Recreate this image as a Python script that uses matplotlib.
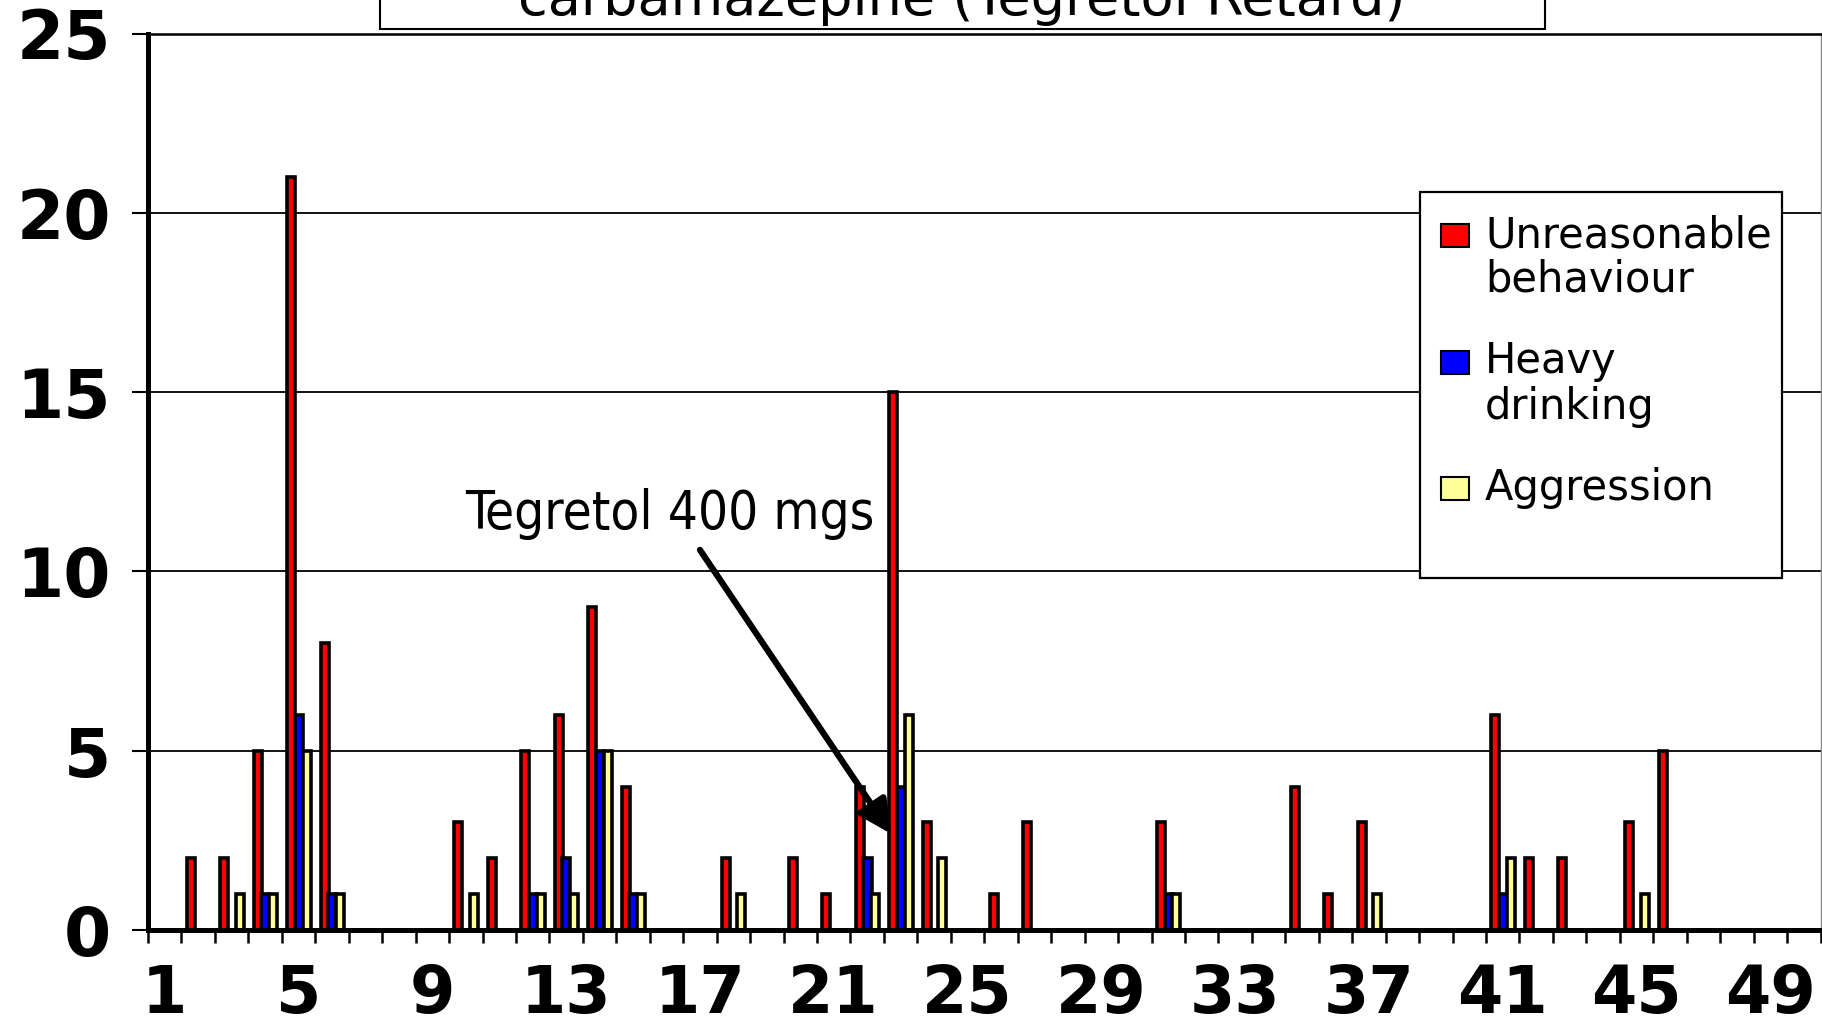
import matplotlib
matplotlib.use("Agg")
import matplotlib.pyplot as plt
from matplotlib.patches import Rectangle

# figure size in pixels (dpi 100)
W, H = 1822, 1030

# daily counts
days = list(range(1, 51))
unreasonable = [0, 2, 2, 5, 21, 8, 0, 0, 0, 3,
                2, 5, 6, 9, 4, 0, 0, 2, 0, 2,
                1, 4, 15, 3, 0, 1, 3, 0, 0, 0,
                3, 0, 0, 0, 4, 1, 3, 0, 0, 0,
                6, 2, 2, 0, 3, 5, 0, 0, 0, 0]
heavy_drinking = [0, 0, 0, 1, 6, 1, 0, 0, 0, 0,
                  0, 1, 2, 5, 1, 0, 0, 0, 0, 0,
                  0, 2, 4, 0, 0, 0, 0, 0, 0, 0,
                  1, 0, 0, 0, 0, 0, 0, 0, 0, 0,
                  1, 0, 0, 0, 0, 0, 0, 0, 0, 0]
aggression = [0, 0, 1, 1, 5, 1, 0, 0, 0, 1,
              0, 1, 1, 5, 1, 0, 0, 1, 0, 0,
              0, 1, 6, 2, 0, 0, 0, 0, 0, 0,
              1, 0, 0, 0, 0, 0, 1, 0, 0, 0,
              2, 0, 0, 0, 1, 0, 0, 0, 0, 0]

series = [unreasonable, heavy_drinking, aggression]
series_names = ["Unreasonable\nbehaviour", "Heavy\ndrinking", "Aggression"]
series_colors = ["#FF0000", "#0000FF", "#FFFF99"]
day_labels = [str(d) for d in range(1, 50, 4)]
y_ticks = [0, 5, 10, 15, 20, 25]

title_text = "carbamazepine (Tegretol Retard)"
note_text = "Tegretol 400 mgs"

fig = plt.figure(figsize=(W / 100, H / 100), dpi=100)
ax = fig.add_axes([148 / W, 1 - 930 / H, (1820.5 - 148) / W, (930 - 33.5) / H])

# clustered bars, slightly overlapping like the original
offsets = [-0.22, 0.01, 0.24]
for vals, name, col, off in zip(series, series_names, series_colors, offsets):
    ax.bar([d + off for d in days], vals, width=0.24, color=col,
           edgecolor="black", linewidth=2.6, label=name)

ax.set_xlim(0.5, 50.5)
ax.set_ylim(0, 25)

# tick marks between categories, labels every 4th day
ax.set_xticks([d + 0.5 for d in range(0, 51)])
ax.set_xticklabels([])
ax.set_xticks(list(range(1, 50, 4)), minor=True)
ax.set_xticklabels(day_labels, minor=True, fontsize=47, fontweight="bold")
ax.tick_params(axis="x", which="major", length=9.5, width=1.8, direction="out")
ax.tick_params(axis="x", which="minor", length=0, pad=24)

ax.set_yticks(y_ticks)
ax.set_yticklabels([str(t) for t in y_ticks], fontsize=49, fontweight="bold")
ax.tick_params(axis="y", length=11.5, width=1.5, pad=15)

ax.yaxis.grid(True, color="black", linewidth=1.3)
ax.set_axisbelow(True)

ax.spines["left"].set_linewidth(3.6)
ax.spines["bottom"].set_linewidth(3.6)
ax.spines["top"].set_linewidth(1.8)
ax.spines["right"].set_linewidth(1.0)
ax.spines["right"].set_color("#888888")

# arrow + note
ax.annotate("", xy=(22.72, 2.68), xytext=(17.0, 10.6),
            arrowprops=dict(arrowstyle="-|>,head_length=0.5,head_width=0.25",
                            color="black", lw=4.5, mutation_scale=40,
                            shrinkA=0, shrinkB=0))
ax.text(9.98, 11.17, note_text, fontsize=38, fontstretch="condensed",
        va="baseline", ha="left")

# title box (cut off at the top of the picture, as in the original)
fig.add_artist(Rectangle((380 / W, 1 - 29 / H), (1545 - 380) / W, 0.1,
                         transform=fig.transFigure, facecolor="white",
                         edgecolor="black", linewidth=1.5, zorder=3))
fig.text(962 / W, 1 - 15 / H, title_text, ha="center", va="baseline",
         fontsize=39, zorder=4)

# legend drawn by hand so the swatch sits on the first text line
fig.add_artist(Rectangle((1420 / W, 1 - 578 / H), (1782 - 1420) / W, (578 - 192) / H,
                         transform=fig.transFigure, facecolor="white",
                         edgecolor="black", linewidth=1.6, zorder=3))
for i, (name, col) in enumerate(zip(series_names, series_colors)):
    y_base = 247 + i * 126.5
    fig.add_artist(Rectangle((1441 / W, 1 - y_base / H), 28 / W, 23 / H,
                             transform=fig.transFigure, facecolor=col,
                             edgecolor="black", linewidth=1.5, zorder=4))
    for j, line in enumerate(name.split("\n")):
        fig.text(1485 / W, 1 - (y_base + j * 45) / H, line, fontsize=30,
                 va="baseline", ha="left", zorder=4)

fig.savefig("out.png", dpi=100)
